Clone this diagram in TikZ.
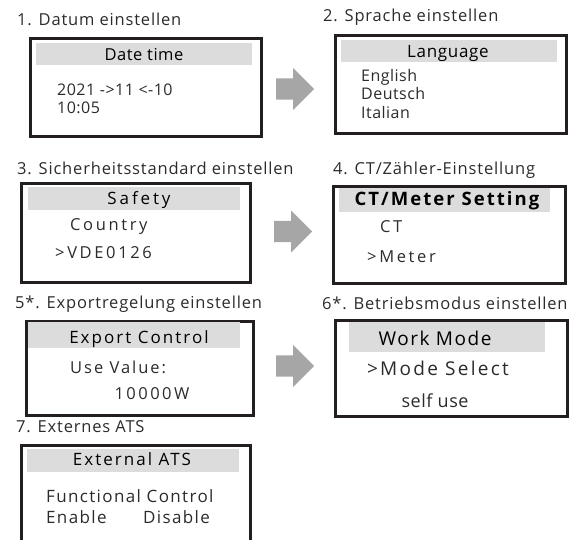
\documentclass[tikz,border=0pt]{standalone}
\usepackage{fontspec}
\setmainfont{Open Sans}
\usetikzlibrary{shapes.arrows}
\definecolor{framecol}{HTML}{231F20}
\definecolor{headcol}{HTML}{DCDCDC}
\definecolor{arrowcol}{HTML}{A6A6A6}
\definecolor{textcol}{HTML}{2B2B2B}
\newcommand\setfs[2]{\addfontfeatures{LetterSpace=#2}\fontsize{#1}{#1}\selectfont}
\tikzset{
  screen/.style={draw=framecol,line width=3pt,anchor=north west,inner sep=0pt},
  headbar/.style={fill=headcol,anchor=north west,inner sep=0pt,minimum height=22pt},
  steptitle/.style={inner sep=0pt,anchor=base west,text=textcol,font=\setfs{16.5}{5}},
  headtext/.style={inner sep=0pt,anchor=base,text=black},
  linetext/.style={inner sep=0pt,anchor=base west,text=textcol},
  flowarrow/.style={single arrow,fill=arrowcol,inner xsep=0pt,inner ysep=10.5pt,minimum height=38pt,
    single arrow head extend=10.5pt,single arrow tip angle=90,anchor=west}
}
\begin{document}
\begin{tikzpicture}[x=1pt,y=-1pt]
\useasboundingbox (0,0) rectangle (579,539);
\clip (0,0) rectangle (579,539);
\node[steptitle] (t1) at (17,25) {1. Datum einstellen};
\node[screen,minimum width=231pt,minimum height=98pt] (scr1) at (28.5,36.5) {};
\node[headbar,minimum width=216pt] (hd1) at (36,43) {};
\node[headtext,font=\setfs{16.5}{3}] (h1) at (144,60) {Date time};
\node[linetext,font=\setfs{16}{3}] (l1a) at (57,95) {2021 ->11 <-10};
\node[linetext,font=\setfs{16}{3}] (l1b) at (57,113) {10:05};
\node[flowarrow] (arr1) at (276,89) {};
\node[steptitle] (t2) at (323,21) {2. Sprache einstellen};
\node[screen,minimum width=231pt,minimum height=98pt] (scr2) at (333.5,33.5) {};
\node[headbar,minimum width=216pt] (hd2) at (341,40) {};
\node[headtext,font=\setfs{17}{4}] (h2) at (448,57) {Language};
\node[linetext,font=\setfs{16}{3}] (l2a) at (361,81) {English};
\node[linetext,font=\setfs{16}{3}] (l2b) at (361,99.5) {Deutsch};
\node[linetext,font=\setfs{16}{3}] (l2c) at (361,118) {Italian};
\node[steptitle] (t3) at (17,174) {3. Sicherheitsstandard einstellen};
\node[screen,minimum width=229pt,minimum height=99pt] (scr3) at (19.5,181.5) {};
\node[headbar,minimum width=212pt,minimum height=23pt] (hd3) at (28,187) {};
\node[headtext,font=\setfs{17}{17}] (h3) at (139,204) {Safety};
\node[linetext,font=\setfs{16.5}{16}] (l3a) at (70,230) {Country};
\node[linetext,font=\setfs{16.5}{16}] (l3b) at (55,258) {>VDE0126};
\node[flowarrow] (arr2) at (274,231.5) {};
\node[steptitle] (t4) at (333,174) {4. CT/Zähler-Einstellung};
\node[screen,minimum width=232pt,minimum height=97pt] (scr4) at (331.5,184.5) {};
\node[headbar,minimum width=211pt,minimum height=24pt] (hd4) at (339,188) {};
\node[headtext,font=\bfseries\setfs{18.5}{11}] (h4) at (447,205) {CT/Meter Setting};
\node[linetext,font=\setfs{16.5}{16}] (l4a) at (380,232) {CT};
\node[linetext,font=\setfs{16.5}{16}] (l4b) at (367,262) {>Meter};
\node[steptitle] (t5) at (15,308) {5*. Exportregelung einstellen};
\node[screen,minimum width=227pt,minimum height=94pt] (scr5) at (24.5,319.5) {};
\node[headbar,minimum width=212pt,minimum height=26pt] (hd5) at (28,322) {};
\node[headtext,font=\setfs{17}{12}] (h5) at (139,343) {Export Control};
\node[linetext,font=\setfs{16.5}{12}] (l5a) at (70,373) {Use Value:};
\node[linetext,anchor=base,font=\setfs{16.5}{15}] (l5b) at (152,399) {10000W};
\node[flowarrow] (arr3) at (276,366) {};
\node[steptitle] (t6) at (322,309) {6*. Betriebsmodus einstellen};
\node[screen,minimum width=232pt,minimum height=96pt] (scr6) at (333.5,318.5) {};
\node[headbar,minimum width=196pt,minimum height=30pt] (hd6) at (349,322) {};
\node[headtext,font=\setfs{19}{8}] (h6) at (435,345) {Work Mode};
\node[linetext,anchor=base,font=\setfs{19}{12}] (l6a) at (438,375) {>Mode Select};
\node[linetext,anchor=base,font=\setfs{18}{3}] (l6b) at (435,407) {self use};
\node[steptitle] (t7) at (16,432) {7. Externes ATS};
\node[screen,minimum width=229pt,minimum height=120pt] (scr7) at (19.5,443.5) {};
\node[headbar,minimum width=212pt,minimum height=23pt] (hd7) at (27,449) {};
\node[headtext,font=\setfs{17}{12}] (h7) at (132,465) {External ATS};
\node[linetext,font=\setfs{17}{8}] (l7a) at (46,502) {Functional Control};
\node[linetext,font=\setfs{17}{8}] (l7b) at (46,523) {Enable};
\node[linetext,font=\setfs{17}{8}] (l7c) at (143,523) {Disable};
\end{tikzpicture}
\end{document}
